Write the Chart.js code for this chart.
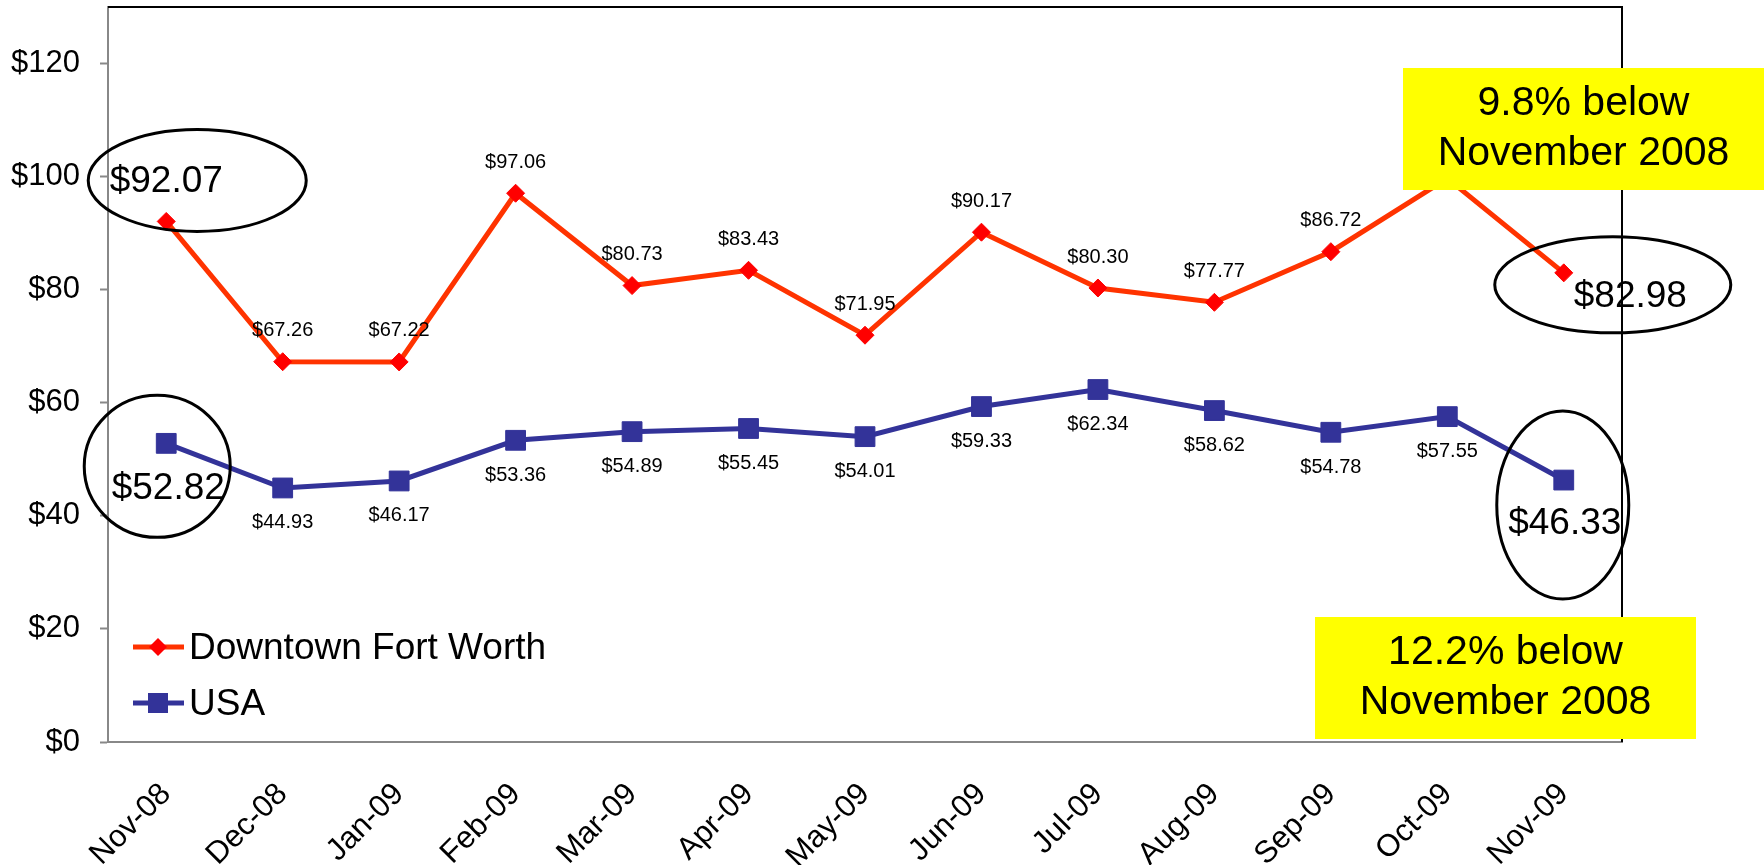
<!DOCTYPE html>
<html>
<head>
<meta charset="utf-8">
<script src="https://cdn.jsdelivr.net/npm/chart.js@4.4.1/dist/chart.umd.min.js"></script>
<style>
html, body { margin: 0; padding: 0; background: #fff; }
</style>
</head>
<body>
<canvas id="myChart" width="1764" height="865"></canvas>
<script>
// data
const months = ["Nov-08", "Dec-08", "Jan-09", "Feb-09", "Mar-09", "Apr-09", "May-09",
                "Jun-09", "Jul-09", "Aug-09", "Sep-09", "Oct-09", "Nov-09"];
const fortWorth = [92.07, 67.26, 67.22, 97.06, 80.73, 83.43, 71.95, 90.17, 80.30, 77.77, 86.72, 99.7, 82.98];
const usa = [52.82, 44.93, 46.17, 53.36, 54.89, 55.45, 54.01, 59.33, 62.34, 58.62, 54.78, 57.55, 46.33];
const yTicks = [0, 20, 40, 60, 80, 100, 120];
const noteTop = ["9.8% below", "November 2008"];
const noteBottom = ["12.2% below", "November 2008"];

const FONT = "Arial, 'Liberation Sans', sans-serif";
const RED = "#FF3300";
const RED_PT = "#FF0000";
const BLUE = "#333399";

const money = (v) => "$" + v.toFixed(2);

function ellipse(ctx, x, y, rx, ry) {
    ctx.beginPath();
    ctx.ellipse(x, y, rx, ry, 0, 0, Math.PI * 2);
    ctx.stroke();
}

function note(ctx, x1, y1, x2, y2, lines) {
    ctx.fillStyle = "#FFFF00";
    ctx.fillRect(x1, y1, x2 - x1, y2 - y1);
    ctx.fillStyle = "#000";
    ctx.font = "41px " + FONT;
    ctx.textAlign = "center";
    ctx.textBaseline = "middle";
    const cx = (x1 + x2) / 2;
    const cy = (y1 + y2) / 2;
    ctx.fillText(lines[0], cx, cy - 25);
    ctx.fillText(lines[1], cx, cy + 25);
}

function marker(ctx, style, x, y, color) {
    ctx.fillStyle = color;
    ctx.beginPath();
    if (style === "rectRot") {
        ctx.moveTo(x, y - 9); ctx.lineTo(x + 9, y); ctx.lineTo(x, y + 9); ctx.lineTo(x - 9, y);
    } else {
        ctx.rect(x - 10, y - 10, 20, 20);
    }
    ctx.closePath();
    ctx.fill();
}

const decor = {
    id: "decor",
    afterDatasetsDraw(chart) {
        const ctx = chart.ctx;
        const area = chart.chartArea;
        const last = months.length - 1;
        ctx.save();

        // frame, top and right
        ctx.strokeStyle = "#000";
        ctx.lineWidth = 2;
        ctx.beginPath();
        ctx.moveTo(area.left, area.top);
        ctx.lineTo(area.right, area.top);
        ctx.lineTo(area.right, area.bottom);
        ctx.stroke();

        // value labels
        const red = chart.getDatasetMeta(0).data;
        const blue = chart.getDatasetMeta(1).data;
        ctx.fillStyle = "#000";
        ctx.textBaseline = "middle";
        ctx.textAlign = "center";
        ctx.font = "20px " + FONT;
        for (let i = 1; i < last; i++) {
            ctx.fillText(money(fortWorth[i]), red[i].x, red[i].y - 31);
            ctx.fillText(money(usa[i]), blue[i].x, blue[i].y + 35);
        }
        ctx.font = "37px " + FONT;
        ctx.fillText(money(fortWorth[0]), red[0].x, red[0].y - 40);
        ctx.fillText(money(usa[0]), blue[0].x + 2, blue[0].y + 45);
        ctx.fillText(money(usa[last]), blue[last].x + 1, blue[last].y + 44);
        ctx.textAlign = "left";
        ctx.fillText(money(fortWorth[last]), red[last].x + 10, red[last].y + 24);

        // circled first / last values
        ctx.strokeStyle = "#000";
        ctx.lineWidth = 3;
        ellipse(ctx, red[0].x + 31, red[0].y - 41, 109, 51);
        ellipse(ctx, blue[0].x - 9, blue[0].y + 23, 73, 71);
        ellipse(ctx, red[last].x + 49, red[last].y + 12, 118, 48);
        ellipse(ctx, blue[last].x - 1, blue[last].y + 25, 66, 94);

        // legend inside the plot
        const rows = [
            { label: chart.data.datasets[0].label, color: RED, pt: RED_PT, style: "rectRot", y: area.bottom - 95 },
            { label: chart.data.datasets[1].label, color: BLUE, pt: BLUE, style: "rect", y: area.bottom - 39 },
        ];
        ctx.font = "37px " + FONT;
        ctx.textAlign = "left";
        rows.forEach((r) => {
            ctx.strokeStyle = r.color;
            ctx.lineWidth = 5;
            ctx.beginPath();
            ctx.moveTo(area.left + 25, r.y);
            ctx.lineTo(area.left + 76, r.y);
            ctx.stroke();
            marker(ctx, r.style, area.left + 50, r.y, r.pt);
            ctx.fillStyle = "#000";
            ctx.fillText(r.label, area.left + 81, r.y + 2);
        });

        // yellow notes
        note(ctx, 1403, 68, 1764, 190, noteTop);
        note(ctx, 1315, 617, 1696, 739, noteBottom);
        ctx.restore();
    },
};

const ctx = document.getElementById("myChart").getContext("2d");
const myChart = new Chart(ctx, {
    type: "line",
    data: {
        labels: months,
        datasets: [
            {
                label: "Downtown Fort Worth",
                data: fortWorth,
                borderColor: RED,
                borderWidth: 5,
                pointStyle: "rectRot",
                pointRadius: 9,
                pointBackgroundColor: RED_PT,
                pointBorderColor: RED_PT,
                pointBorderWidth: 1,
                tension: 0,
            },
            {
                label: "USA",
                data: usa,
                borderColor: BLUE,
                borderWidth: 5,
                pointStyle: "rect",
                pointRadius: 14,
                pointBackgroundColor: BLUE,
                pointBorderColor: BLUE,
                pointBorderWidth: 1,
                tension: 0,
            },
        ],
    },
    options: {
        responsive: false,
        animation: false,
        devicePixelRatio: 1,
        layout: { autoPadding: false, padding: { left: 0, top: 7, right: 142, bottom: 0 } },
        plugins: {
            legend: { display: false },
            tooltip: { enabled: false },
        },
        scales: {
            x: {
                offset: true,
                grid: { display: false, drawTicks: false },
                border: { color: "#888", width: 2 },
                ticks: {
                    color: "#000",
                    font: { family: FONT, size: 31 },
                    minRotation: 45,
                    maxRotation: 45,
                    autoSkip: false,
                    padding: 34,
                },
                afterFit(scale) {
                    scale.height = 123;
                    scale.paddingLeft = 0;
                    scale.paddingRight = 0;
                },
            },
            y: {
                min: 0,
                max: 130,
                grid: { drawOnChartArea: false, tickLength: 8, tickColor: "#888", tickWidth: 2 },
                border: { color: "#888", width: 2 },
                ticks: {
                    color: "#000",
                    font: { family: FONT, size: 31 },
                    padding: 20,
                    callback: (v) => "$" + v,
                },
                afterBuildTicks(scale) { scale.ticks = yTicks.map((v) => ({ value: v })); },
                afterFit(scale) {
                    scale.width = 108;
                    scale.paddingTop = 0;
                    scale.paddingBottom = 0;
                },
            },
        },
    },
    plugins: [decor],
});
</script>
</body>
</html>
